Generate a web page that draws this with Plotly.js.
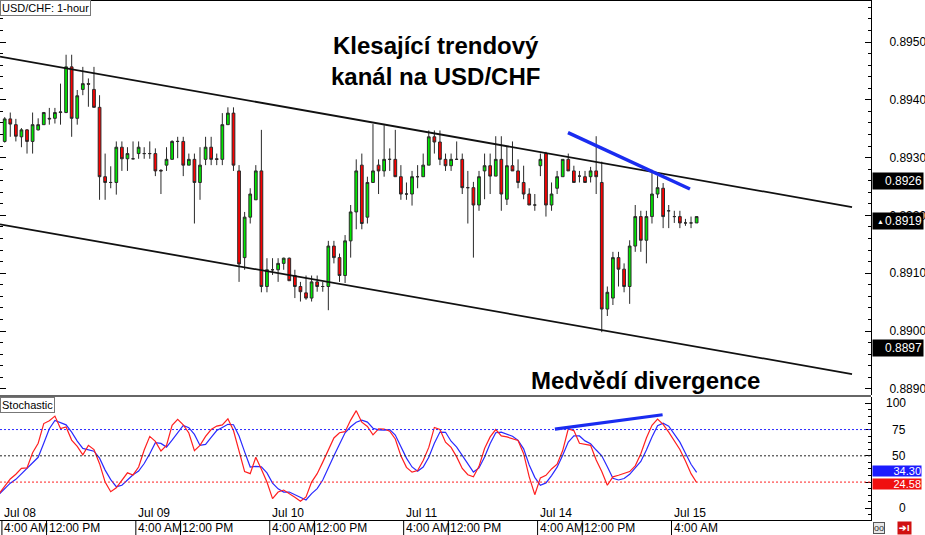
<!DOCTYPE html>
<html><head><meta charset="utf-8">
<script src="https://cdn.plot.ly/plotly-3.0.1.min.js"></script>
<style>html,body{margin:0;padding:0;background:#fff;} #chart{width:925px;height:535px;}</style>
</head><body><div id="chart"></div>
<script>
// ---- Candle data (USD/CHF 1-hour), index 0 = Jul 08 4:00 AM ----
const openP = [
 .89328,.89367,.89357,.89336,.89348,.89328,.89348,.89357,.89368,.89368,
 .89378,.89378,.89457,.89368,.89418,.89428,.89418,.89387,.89267,.89257,
 .89257,.89318,.89298,.89298,.89307,.89307,.89307,.89307,.89278,.89287,
 .89297,.89328,.89328,.89287,.89297,.89257,.89297,.89318,.89298,.89297,
 .89357,.89377,.89277,.89127,.89197,.89227,.89277,.89077,.89106,.89106,
 .89117,.89126,.89096,.89077,.89066,.89057,.89085,.89077,.89077,.89147,
 .89127,.89096,.89156,.89206,.89287,.89197,.89257,.89287,.89277,.89297,
 .89297,.89267,.89237,.89237,.89267,.89267,.89287,.89336,.89327,.89297,
 .89286,.89297,.89297,.89248,.89248,.89218,.89277,.89286,.89268,.89297,
 .89228,.89286,.89277,.89257,.89237,.89218,.89286,.89307,.89218,.89247,
 .89267,.89297,.89277,.89268,.89267,.89267,.89277,.89257,.89038,.89057,
 .89127,.89107,.89077,.89147,.89198,.89157,.89198,.89237,.89247,.89208,
 .89198,.89198,.89187,.89187,.89187];
const highP = [
 .89370,.89378,.89367,.89351,.89349,.89378,.89368,.89379,.89386,.89386,
 .89428,.89478,.89478,.89417,.89457,.89437,.89457,.89408,.89307,.89285,
 .89328,.89328,.89318,.89328,.89328,.89318,.89328,.89316,.89280,.89318,
 .89330,.89336,.89336,.89307,.89307,.89318,.89336,.89336,.89307,.89377,
 .89387,.89387,.89287,.89206,.89247,.89287,.89348,.89126,.89126,.89126,
 .89127,.89127,.89106,.89085,.89096,.89096,.89096,.89085,.89156,.89156,
 .89134,.89166,.89218,.89297,.89307,.89267,.89358,.89297,.89356,.89316,
 .89348,.89287,.89257,.89277,.89287,.89307,.89347,.89347,.89347,.89307,
 .89307,.89328,.89307,.89277,.89258,.89277,.89307,.89307,.89337,.89337,
 .89319,.89328,.89297,.89286,.89247,.89237,.89307,.89310,.89257,.89277,
 .89297,.89307,.89286,.89277,.89277,.89284,.89337,.89293,.89077,.89137,
 .89137,.89117,.89157,.89218,.89208,.89208,.89279,.89268,.89256,.89218,
 .89208,.89208,.89194,.89198,.89198];
const lowP = [
 .89326,.89336,.89328,.89318,.89307,.89307,.89347,.89357,.89357,.89359,
 .89357,.89377,.89336,.89357,.89408,.89388,.89387,.89227,.89227,.89247,
 .89236,.89277,.89277,.89297,.89298,.89298,.89298,.89268,.89237,.89277,
 .89297,.89299,.89268,.89287,.89186,.89227,.89287,.89287,.89287,.89287,
 .89357,.89277,.89085,.89106,.89186,.89227,.89067,.89067,.89097,.89085,
 .89106,.89087,.89057,.89051,.89054,.89051,.89068,.89068,.89036,.89117,
 .89085,.89083,.89127,.89176,.89176,.89186,.89257,.89237,.89267,.89277,
 .89267,.89227,.89227,.89217,.89247,.89267,.89287,.89307,.89287,.89277,
 .89277,.89297,.89237,.89186,.89127,.89208,.89228,.89237,.89268,.89208,
 .89218,.89277,.89247,.89228,.89218,.89208,.89268,.89198,.89208,.89237,
 .89267,.89277,.89257,.89257,.89257,.89257,.89237,.88998,.89026,.89045,
 .89077,.89067,.89047,.89137,.89137,.89117,.89186,.89230,.89178,.89178,
 .89187,.89178,.89182,.89178,.89187];
const closeP = [
 .89367,.89358,.89337,.89348,.89328,.89357,.89357,.89378,.89367,.89378,
 .89379,.89457,.89368,.89407,.89428,.89427,.89387,.89267,.89257,.89257,
 .89318,.89298,.89307,.89298,.89318,.89307,.89307,.89277,.89277,.89297,
 .89328,.89328,.89287,.89297,.89257,.89287,.89318,.89297,.89297,.89357,
 .89377,.89287,.89116,.89197,.89237,.89277,.89077,.89106,.89106,.89117,
 .89126,.89087,.89077,.89068,.89057,.89085,.89077,.89077,.89147,.89127,
 .89096,.89156,.89206,.89277,.89186,.89257,.89277,.89277,.89297,.89297,
 .89267,.89237,.89237,.89267,.89267,.89287,.89336,.89327,.89297,.89286,
 .89297,.89297,.89248,.89248,.89218,.89267,.89286,.89268,.89297,.89237,
 .89286,.89277,.89257,.89237,.89218,.89218,.89297,.89218,.89237,.89267,
 .89297,.89277,.89257,.89268,.89257,.89277,.89267,.89038,.89067,.89127,
 .89107,.89077,.89147,.89198,.89157,.89198,.89237,.89248,.89198,.89208,
 .89198,.89187,.89187,.89187,.89198];

// ---- Stochastic (%K red, %D blue), first value is at index -1 (left edge) ----
const stochStart = -1;
const stochK = [14,
 21,28,32.5,38,38.5,53,62,80.7,83.4,87.8,
 76,77.5,65,59,51,60,56,42.5,25,15.8,
 19.6,26.6,33.8,31.8,39.3,55.5,68.5,63.8,54.6,59.9,
 79,84.7,79.4,71.7,55,59.9,68.5,75,78.3,79.5,
 85.3,74.1,54.3,35,33,48.6,37.2,25,9.2,15.5,
 17.4,14.2,10.5,6.7,10.8,25,33,44,55,67,
 72,73,84,93,82,78,70,75.7,75.5,73.5,
 66,50,39,34.5,36,45.6,58,77,75,63,
 58,49,38,32,30,40,57,68,75,69,
 68,66,64.6,52,30,13,29,31.4,37.5,42,
 55,75.7,74,62,61,60,46,35,22,30,
 31.5,33,35,40.5,52,67,79,85,80,72.5,
 64,56,45,33,24.58];
const stochD = [13.5,
 18.6,24,27.6,33,38,43,48.6,62,75.8,83.7,
 81.6,79.5,72.6,64,57.1,55.9,54.4,47.8,36.4,27.3,
 20.6,22,26.6,32,35.5,42.7,52,62.5,61.8,58.3,
 64.9,71.9,78.9,76.8,70.4,59.9,60.9,67.5,74.1,77,
 80,79.6,68.8,53.8,39.3,40,39.5,33.8,24,18.6,
 15.5,15.5,13,10.3,8,14,18.8,27,37.7,50,
 61,71.9,77.7,82,84,82.1,76.3,74.7,74.4,75,
 69.8,59.4,47.8,39.4,35.3,39.3,48.6,62,72.6,72.4,
 63.9,58.3,50.3,41.5,34.5,38.5,48.8,61.8,72,72.6,
 71,68.7,64.7,56.6,41.3,29.5,21.9,24.2,31.2,39.2,
 50.5,63.1,69,68.9,64.2,61.5,55.5,50,39.5,28.6,
 27,28.4,32.4,38,44.6,55.5,68,78.6,81,78.3,
 71,63,52.5,42,34.3];

// ---- Drawn trend lines (candle index, price / stochastic value) ----
const upperX = [-0.842, 151.85], upperY = [0.894746, 0.892144];
const lowerX = [-0.842, 151.85], lowerY = [0.891846, 0.889256];
const bearX = [100.95, 122.8], bearY = [0.893431, 0.892457];
const stochTrendX = [98.6, 117.9], stochTrendY = [75.4, 89.1];

// ---- Axis labels ----
const dayLabels = ['Jul 08','Jul 09','Jul 10','Jul 11','Jul 14','Jul 15'];
const dayIndex  = [0,24,48,72,96,120];
const timeLabels = ['4:00 AM','12:00 PM','4:00 AM','12:00 PM','4:00 AM','12:00 PM','4:00 AM','12:00 PM','4:00 AM','12:00 PM','4:00 AM'];
const timeIndex  = [0,8,24,32,48,56,72,80,96,104,120];
const stochTickVals = [100,75,50,0];
const priceBoxes = [['0.8926',0.8926],['0.8919',0.8919],['0.8897',0.8897]];
const stochBoxes = [['34.30',34.30,'#1c1cff',1],['24.58',24.58,'#f01010',-1]];

const FONT = 'Liberation Sans, Arial, sans-serif';
const PW = 871, PH = 520;           // plot area in px
const px = v => v / PW;             // px -> paper x
const py = v => (PH - v) / PH;      // px -> paper y
const idx = closeP.map((_, i) => i);
const sx = stochK.map((_, i) => i + stochStart);

const traces = [
  {type:'candlestick', x: idx, open: openP, high: highP, low: lowP, close: closeP,
   xaxis:'x', yaxis:'y', whiskerwidth:0, hoverinfo:'skip',
   increasing:{line:{color:'#2a2a2a', width:1}, fillcolor:'#00e800'},
   decreasing:{line:{color:'#2a2a2a', width:1}, fillcolor:'#ff0000'}},
  {type:'scatter', mode:'lines', x: upperX, y: upperY, xaxis:'x', yaxis:'y', line:{color:'#111', width:1.8}, hoverinfo:'skip'},
  {type:'scatter', mode:'lines', x: lowerX, y: lowerY, xaxis:'x', yaxis:'y', line:{color:'#111', width:1.8}, hoverinfo:'skip'},
  {type:'scatter', mode:'lines', x: bearX, y: bearY, xaxis:'x', yaxis:'y', line:{color:'#1a2cf0', width:3.5}, hoverinfo:'skip'},
  {type:'scatter', mode:'lines', x: sx, y: stochD, xaxis:'x', yaxis:'y2', line:{color:'#2a2aff', width:1.2}, hoverinfo:'skip'},
  {type:'scatter', mode:'lines', x: sx, y: stochK, xaxis:'x', yaxis:'y2', line:{color:'#ff1f1f', width:1.2}, hoverinfo:'skip'},
  {type:'scatter', mode:'lines', x: stochTrendX, y: stochTrendY, xaxis:'x', yaxis:'y2', line:{color:'#1a2cf0', width:3.2}, hoverinfo:'skip'}
];

const shapes = [
  {type:'line', xref:'paper', yref:'paper', x0:0, x1:1, y0:1, y1:1, line:{color:'#000', width:2}},
  {type:'line', xref:'paper', yref:'paper', x0:0, x1:1, y0:py(396), y1:py(396), line:{color:'#333', width:1.5}},
  {type:'line', xref:'paper', yref:'y2', x0:0, x1:1, y0:75, y1:75, line:{color:'#2a2aff', width:1, dash:'2px,2px'}},
  {type:'line', xref:'paper', yref:'y2', x0:0, x1:1, y0:50, y1:50, line:{color:'#222', width:1, dash:'2px,2px'}},
  {type:'line', xref:'paper', yref:'y2', x0:0, x1:1, y0:25, y1:25, line:{color:'#ff1f1f', width:1, dash:'2px,2px'}}
];
timeIndex.forEach(i => shapes.push({type:'line', xref:'x', yref:'paper', x0:i-0.5, x1:i-0.5, y0:py(535), y1:0, line:{color:'#000', width:1}}));

const annotations = [
  {xref:'paper', yref:'paper', x:px(435.5), y:py(61), xanchor:'center', yanchor:'middle', showarrow:false,
   text:'<b>Klesající trendový<br>kanál na USD/CHF</b>', font:{family:FONT, size:24, color:'#000'}},
  {xref:'paper', yref:'paper', x:px(645.5), y:py(380), xanchor:'center', yanchor:'middle', showarrow:false,
   text:'<b>Medvědí divergence</b>', font:{family:FONT, size:24, color:'#000'}},
  {xref:'paper', yref:'paper', x:0, y:1, xanchor:'left', yanchor:'top', showarrow:false, text:'USD/CHF: 1-hour',
   font:{family:FONT, size:11, color:'#000'}, bgcolor:'#fff', bordercolor:'#777', borderwidth:1, borderpad:1},
  {xref:'paper', yref:'paper', x:0, y:py(397), xanchor:'left', yanchor:'top', showarrow:false, text:'Stochastic',
   font:{family:FONT, size:11, color:'#000'}, bgcolor:'#fff', bordercolor:'#777', borderwidth:1, borderpad:1}
];
dayLabels.forEach((t, k) => annotations.push({xref:'x', yref:'paper', x:dayIndex[k]-0.5, y:py(513), xanchor:'left', yanchor:'middle',
  showarrow:false, text:t, font:{family:FONT, size:12, color:'#000'}}));
timeLabels.forEach((t, k) => annotations.push({xref:'x', yref:'paper', x:timeIndex[k]-0.5, y:py(528), xanchor:'left', yanchor:'middle',
  showarrow:false, text:t, font:{family:FONT, size:12, color:'#000'}}));
stochTickVals.forEach(v => annotations.push({xref:'paper', yref:'y2', x:px(908), y:v, xanchor:'right', yanchor:'middle',
  showarrow:false, text:String(v), font:{family:FONT, size:12, color:'#000'}}));
priceBoxes.forEach(([t, v]) => annotations.push({xref:'paper', yref:'y', x:px(872), y:v, xanchor:'left', yanchor:'middle',
  showarrow:false, text:t, width:48, height:14, align:'right', bgcolor:'#000', borderpad:1, font:{family:FONT, size:12, color:'#fff'}}));
annotations.push({xref:'paper', yref:'y', x:px(875), y:0.8919, xanchor:'left', yanchor:'middle', showarrow:false, text:'▲',
  font:{family:FONT, size:7, color:'#fff'}});
stochBoxes.forEach(([t, v, c, s]) => annotations.push({xref:'paper', yref:'y2', x:px(872), y:v, yshift:s, xanchor:'left', yanchor:'middle',
  showarrow:false, text:t, width:48, height:10, align:'right', bgcolor:c, borderpad:0, font:{family:FONT, size:11, color:'#fff'}}));
annotations.push({xref:'paper', yref:'paper', x:px(873), y:py(528), xanchor:'left', yanchor:'middle', showarrow:false, text:'oo',
  font:{family:FONT, size:9, color:'#333'}, bgcolor:'#e8e8e8', bordercolor:'#555', borderwidth:1, borderpad:0});
annotations.push({xref:'paper', yref:'paper', x:px(897), y:py(528), xanchor:'left', yanchor:'middle', showarrow:false, text:'<b>➔I</b>',
  font:{family:FONT, size:9, color:'#fff'}, bgcolor:'#d01010', borderpad:1});

const layout = {
  width:925, height:535, margin:{l:0, r:54, t:0, b:15},
  paper_bgcolor:'#fff', plot_bgcolor:'#fff', showlegend:false, boxgap:0.3,
  xaxis:{domain:[0,1], anchor:'y2', range:[-0.842, 155.25], showticklabels:false, ticks:'', showgrid:false,
         zeroline:false, showline:true, linecolor:'#000', linewidth:1, rangeslider:{visible:false}, fixedrange:true},
  yaxis:{domain:[py(395), 1], anchor:'x', side:'right', range:[0.888893, 0.895727], tickformat:'.4f', tick0:0.889, dtick:0.001,
         ticks:'inside', ticklen:6, tickcolor:'#000', showline:true, linecolor:'#000', linewidth:1, mirror:'ticks',
         minor:{dtick:0.0002, ticks:'inside', ticklen:3, tickcolor:'#000'},
         showgrid:false, zeroline:false, ticklabelstandoff:15, tickfont:{family:FONT, size:12, color:'#000'}},
  yaxis2:{domain:[0, py(397)], anchor:'x', side:'right', range:[-11.1, 106], tick0:0, dtick:25, showticklabels:false,
          ticks:'inside', ticklen:6, tickcolor:'#000', showline:true, linecolor:'#000', linewidth:1,
          minor:{dtick:6.25, ticks:'inside', ticklen:3, tickcolor:'#000'}, showgrid:false, zeroline:false},
  shapes: shapes, annotations: annotations
};
Plotly.newPlot('chart', traces, layout, {staticPlot:true, displayModeBar:false});
</script></body></html>
